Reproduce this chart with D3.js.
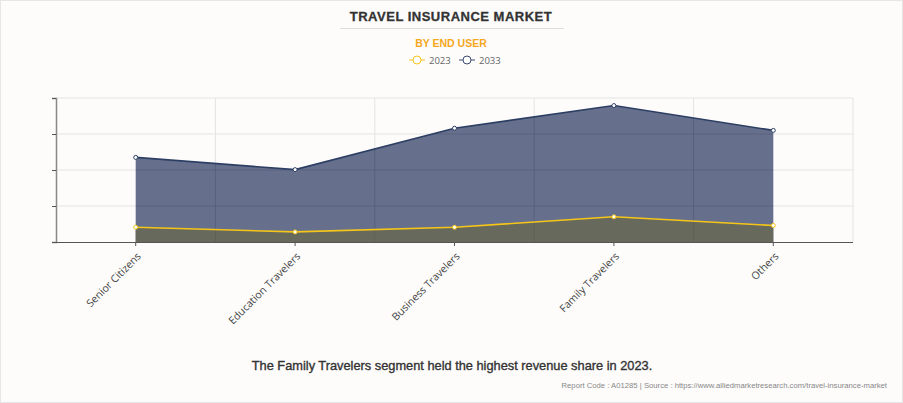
<!DOCTYPE html>
<html>
<head>
<meta charset="utf-8">
<script src="https://cdn.jsdelivr.net/npm/d3@7"></script>
<style>
  html, body { margin: 0; padding: 0; background: #fdfcfb; }
  svg { display: block; }
</style>
</head>
<body>
<svg id="chart" width="903" height="403"></svg>
<script>
// data
const categories = ['Senior Citizens', 'Education Travelers', 'Business Travelers', 'Family Travelers', 'Others'];
const values2023 = [4.1, 2.8, 4.1, 7.0, 4.6];
const values2033 = [23.5, 20.1, 31.6, 37.9, 31.0];
const yTicks = [0, 10, 20, 30, 40];

const svg = d3.select('#chart');
const W = 903, H = 403;
const m = {left: 56, right: 50, top: 98, bottom: 161};

svg.append('rect')
  .attr('x', 0.5).attr('y', 0.5).attr('width', W - 1).attr('height', H - 1)
  .attr('fill', '#fdfcfb').attr('stroke', '#e6e6e6');

const x = d3.scaleBand().domain(categories).range([m.left, W - m.right]);
const y = d3.scaleLinear().domain([0, 40]).range([H - m.bottom, m.top]);
const cx = d => x(d) + x.bandwidth() / 2;

// gridlines
function drawGrid(g, color) {
  g.selectAll('.hg').data(yTicks.slice(1)).enter().append('line')
    .attr('x1', m.left).attr('x2', W - m.right)
    .attr('y1', d => y(d)).attr('y2', d => y(d))
    .attr('stroke', color);
  g.selectAll('.vg').data(categories.slice(1).map(c => x(c)).concat([W - m.right])).enter().append('line')
    .attr('x1', d => d).attr('x2', d => d)
    .attr('y1', m.top).attr('y2', y(0))
    .attr('stroke', color);
}
drawGrid(svg.append('g'), '#e4e4e4');

// areas
const area = d3.area().x((d, i) => cx(categories[i])).y0(y(0)).y1(d => y(d));
const line = d3.line().x((d, i) => cx(categories[i])).y(d => y(d));

svg.append('clipPath').attr('id', 'areaClip')
  .append('path').datum(values2033).attr('d', area);

svg.append('path').datum(values2033).attr('d', area)
  .attr('fill', 'rgb(44,58,98)').attr('fill-opacity', 0.72);
svg.append('path').datum(values2023).attr('d', area)
  .attr('fill', '#696a5e');

// faint gridlines showing through the fills
drawGrid(svg.append('g').attr('opacity', 0.08).attr('clip-path', 'url(#areaClip)'), '#000');

svg.append('path').datum(values2033).attr('d', line)
  .attr('fill', 'none').attr('stroke', '#2c3e63').attr('stroke-width', 1.6);
svg.append('path').datum(values2023).attr('d', line)
  .attr('fill', 'none').attr('stroke', '#f5c518').attr('stroke-width', 1.6);

const series = [
  {vals: values2033, color: '#2c3e63'},
  {vals: values2023, color: '#f5c518'}
];
series.forEach(s => {
  svg.append('g').selectAll('circle').data(s.vals).enter().append('circle')
    .attr('cx', (d, i) => cx(categories[i])).attr('cy', d => y(d))
    .attr('r', 2).attr('fill', '#fff').attr('stroke', s.color).attr('stroke-width', 1);
});

// axes
const yAxis = svg.append('g')
  .attr('transform', `translate(${m.left},0)`)
  .call(d3.axisLeft(y).tickValues(yTicks).tickSize(4).tickFormat(''));
yAxis.select('.domain').attr('stroke', '#888').attr('stroke-width', 1.5);
yAxis.selectAll('.tick line').attr('stroke', '#555');

const xAxis = svg.append('g')
  .attr('transform', `translate(0,${y(0)})`)
  .call(d3.axisBottom(x).tickSize(4).tickSizeOuter(0));
xAxis.select('.domain').attr('stroke', '#555').attr('d', `M${m.left - 4},0.5H${W - m.right}`);
xAxis.selectAll('.tick line').attr('stroke', '#555');
xAxis.selectAll('.tick text')
  .attr('font-family', '"Open Sans", sans-serif').attr('font-size', 10.5)
  .attr('fill', '#444')
  .attr('text-anchor', 'end')
  .attr('dx', 0).attr('dy', 0)
  .attr('transform', 'translate(1,10) rotate(-45)');

// title block
svg.append('text').attr('x', 451).attr('y', 21).attr('text-anchor', 'middle')
  .attr('font-family', '"Liberation Sans", Arial, sans-serif').attr('font-weight', 'bold')
  .attr('font-size', 13).attr('letter-spacing', 0.5).attr('fill', '#333')
  .attr('stroke', '#333').attr('stroke-width', 0.3)
  .text('TRAVEL INSURANCE MARKET');
svg.append('line').attr('x1', 340).attr('x2', 564).attr('y1', 28.5).attr('y2', 28.5)
  .attr('stroke', '#dedede');
svg.append('text').attr('x', 451).attr('y', 47).attr('text-anchor', 'middle')
  .attr('font-family', '"Liberation Sans", Arial, sans-serif').attr('font-weight', 'bold')
  .attr('font-size', 10.5).attr('fill', '#f5a81c')
  .text('BY END USER');

// legend
const legend = [
  {label: '2023', color: '#f5c518', x: 409},
  {label: '2033', color: '#3c4a70', x: 459}
];
const lg = svg.append('g').selectAll('g').data(legend).enter().append('g')
  .attr('transform', d => `translate(${d.x},60)`);
lg.append('line').attr('x1', 0).attr('x2', 16).attr('stroke', d => d.color);
lg.append('circle').attr('cx', 8).attr('r', 4).attr('fill', '#fff').attr('stroke', d => d.color);
lg.append('text').attr('x', 20).attr('y', 3.5)
  .attr('font-family', '"Open Sans", sans-serif').attr('font-size', 9.5).attr('fill', '#666')
  .text(d => d.label);

// caption and footer
svg.append('text').attr('x', 452).attr('y', 370).attr('text-anchor', 'middle')
  .attr('font-family', '"Liberation Sans", Arial, sans-serif').attr('font-size', 12.8)
  .attr('fill', '#333').attr('stroke', '#333').attr('stroke-width', 0.35)
  .text('The Family Travelers segment held the highest revenue share in 2023.');
svg.append('text').attr('x', 887).attr('y', 388).attr('text-anchor', 'end')
  .attr('font-family', '"Liberation Sans", Arial, sans-serif').attr('font-size', 7.7)
  .attr('fill', '#888')
  .text('Report Code : A01285 | Source : https://www.alliedmarketresearch.com/travel-insurance-market');
</script>
</body>
</html>
